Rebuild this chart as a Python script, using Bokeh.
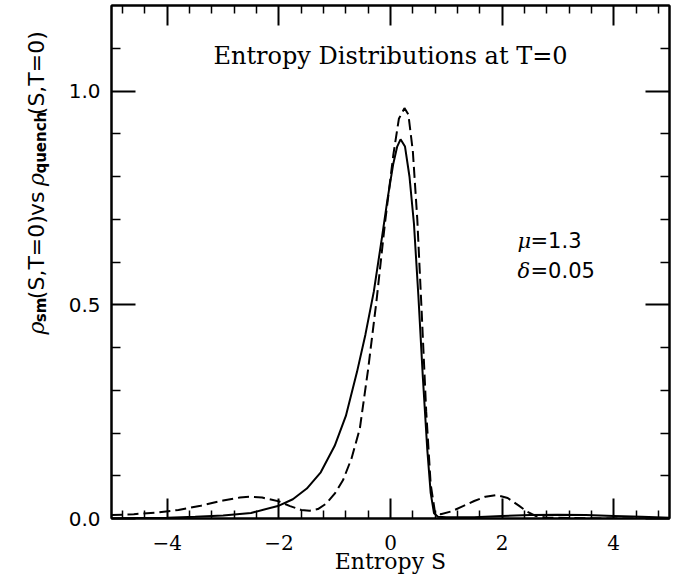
import math
from bokeh.plotting import figure
from bokeh.layouts import row
from bokeh.models import Range1d, LinearAxis, FixedTicker, Label
from bokeh.embed import file_html
from bokeh.resources import INLINE

# ---- data ----
s_sm = [-5.0, -4.5, -4.0, -3.5, -3.0, -2.5, -2.0, -1.75, -1.5, -1.25, -1.0, -0.8, -0.6,
        -0.45, -0.3, -0.15, -0.05, 0.05, 0.12, 0.18, 0.26, 0.34, 0.42, 0.5, 0.58, 0.66,
        0.72, 0.78, 0.85, 1.0, 1.5, 2.0, 2.5, 3.0, 3.5, 4.0, 4.5, 5.0]
rho_sm = [0.000, 0.001, 0.002, 0.004, 0.007, 0.013, 0.030, 0.045, 0.070, 0.108, 0.170,
          0.240, 0.343, 0.430, 0.530, 0.660, 0.750, 0.830, 0.870, 0.887, 0.870, 0.800,
          0.690, 0.520, 0.330, 0.160, 0.060, 0.012, 0.004, 0.003, 0.003, 0.006, 0.008,
          0.009, 0.008, 0.006, 0.004, 0.002]

s_q = [-5.0, -4.6, -4.2, -3.8, -3.4, -3.0, -2.7, -2.5, -2.3, -2.0, -1.8, -1.6, -1.45,
       -1.3, -1.15, -1.0, -0.85, -0.7, -0.55, -0.4, -0.25, -0.1, 0.05, 0.15, 0.25, 0.32,
       0.4, 0.48, 0.56, 0.64, 0.72, 0.8, 0.9, 1.1, 1.3, 1.5, 1.7, 1.9, 2.1, 2.3, 2.45,
       2.6, 2.8, 3.2, 4.0, 5.0]
rho_q = [0.008, 0.010, 0.014, 0.020, 0.030, 0.042, 0.049, 0.051, 0.049, 0.040, 0.029,
         0.020, 0.018, 0.022, 0.035, 0.058, 0.090, 0.140, 0.210, 0.350, 0.510, 0.690,
         0.850, 0.935, 0.960, 0.945, 0.860, 0.700, 0.480, 0.250, 0.080, 0.012, 0.010,
         0.017, 0.029, 0.041, 0.051, 0.055, 0.048, 0.030, 0.016, 0.006, 0.002, 0.001,
         0.000, 0.000]

x_major = [-4, -2, 0, 2, 4]
x_minor = [-4.8, -4.4, -3.6, -3.2, -2.8, -2.4, -1.6, -1.2, -0.8, -0.4,
           0.4, 0.8, 1.2, 1.6, 2.4, 2.8, 3.2, 3.6, 4.4, 4.8]
x_tick_labels = {-4: "\u22124", -2: "\u22122", 0: "0", 2: "2", 4: "4"}
y_major = [0.0, 0.5, 1.0]
y_minor = [0.1, 0.2, 0.3, 0.4, 0.6, 0.7, 0.8, 0.9, 1.1]
y_tick_labels = {0: "0.0", 0.5: "0.5", 1: "1.0"}

title_text = "Entropy Distributions at T=0"
xlabel_text = "Entropy S"

# ---- layout geometry (page pixels; page margin 8) ----
LW = 60                      # width of the strip that holds the rotated y label
W, H = 613, 580
L, R, T, B = 51, 4, 5, 62
FX0 = 8 + LW + L             # frame left on the page
FY0 = 8 + T                  # frame top on the page
fw = W - L - R
fh = H - T - B
px_x = fw / 10.0
px_y = fh / 1.2

def px2x(px):
    return -5 + (px - FX0) / px_x

def py2y(py):
    return (FY0 + fh - py) / px_y

# ---- main figure ----
p = figure(width=W, height=H, x_range=Range1d(-5, 5), y_range=Range1d(0, 1.2),
           output_backend="svg", toolbar_location=None,
           min_border_left=L, min_border_right=R, min_border_top=T, min_border_bottom=B,
           background_fill_color="white", border_fill_color="white")
p.grid.visible = False
p.outline_line_color = "black"
p.outline_line_width = 2

def style(ax, major_in, minor_in):
    ax.axis_line_color = "black"
    ax.axis_line_width = 2
    ax.major_tick_in = major_in
    ax.major_tick_out = 0
    ax.minor_tick_in = minor_in
    ax.minor_tick_out = 0
    ax.major_tick_line_width = 2
    ax.minor_tick_line_width = 1.5
    ax.major_tick_line_color = "black"
    ax.minor_tick_line_color = "black"

xb = p.xaxis[0]
xb.ticker = FixedTicker(ticks=x_major, minor_ticks=x_minor)
xb.major_label_overrides = x_tick_labels
xb.major_label_text_font = "DejaVu Serif"
xb.major_label_text_font_size = "20px"
xb.major_label_text_color = "black"
xb.major_label_standoff = 16
xb.axis_label = xlabel_text
xb.axis_label_text_font = "DejaVu Serif"
xb.axis_label_text_font_style = "normal"
xb.axis_label_text_font_size = "22px"
xb.axis_label_text_color = "black"
xb.axis_label_standoff = -4
style(xb, 20, 8)

yl = p.yaxis[0]
yl.ticker = FixedTicker(ticks=y_major, minor_ticks=y_minor)
yl.major_label_overrides = y_tick_labels
yl.major_label_text_font = "DejaVu Sans"
yl.major_label_text_font_size = "20px"
yl.major_label_text_color = "black"
yl.major_label_standoff = 11
style(yl, 24, 9)

def mirror_axis(ticks, minor, major_in, minor_in):
    ax = LinearAxis(ticker=FixedTicker(ticks=ticks, minor_ticks=minor))
    ax.major_label_text_font_size = "1px"
    ax.major_label_text_color = None
    ax.major_label_standoff = 0
    style(ax, major_in, minor_in)
    return ax

p.add_layout(mirror_axis(x_major, x_minor, 20, 8), "above")
p.add_layout(mirror_axis(y_major, y_minor, 24, 9), "right")

# ---- curves ----
p.line(s_sm, rho_sm, line_color="black", line_width=2)
p.line(s_q, rho_q, line_color="black", line_width=2, line_dash="11 5")

# ---- texts inside the frame ----
p.add_layout(Label(x=0, y=py2y(63), text=title_text, text_align="center",
                   text_baseline="alphabetic", text_font="DejaVu Serif",
                   text_font_size="24px", text_color="black"))

for txt_g, txt_r, base in [("\u03bc", "=1.3", 248), ("\u03b4", "=0.05", 278)]:
    x0 = px2x(525)
    p.add_layout(Label(x=x0, y=py2y(base), text=txt_g, text_align="left",
                       text_baseline="alphabetic", text_font="DejaVu Serif",
                       text_font_style="italic", text_font_size="21px", text_color="black"))
    p.add_layout(Label(x=x0 + 13 / px_x, y=py2y(base), text=txt_r, text_align="left",
                       text_baseline="alphabetic", text_font="DejaVu Sans",
                       text_font_size="21px", text_color="black"))

# ---- strip with the rotated y label (coordinates = page pixels minus margin) ----
ys = figure(width=LW, height=H, x_range=Range1d(0, LW), y_range=Range1d(H, 0),
            output_backend="svg", toolbar_location=None,
            min_border_left=0, min_border_right=0, min_border_top=0, min_border_bottom=0,
            x_axis_location=None, y_axis_location=None,
            background_fill_color="white", border_fill_color="white")
ys.outline_line_color = None
ys.grid.visible = False

main_fs, sub_fs = 22, 15
# text, font, style, size, offset below baseline, advance (px)
pieces = [
    ("\u03c1", "DejaVu Serif", "italic", main_fs, 0, 14),
    ("sm", "DejaVu Sans", "bold", sub_fs, 4, 26),
    ("(S,T=0)", "DejaVu Sans", "normal", main_fs, 0, 94),
    ("vs", "DejaVu Sans", "normal", main_fs, 0, 34),
    ("\u03c1", "DejaVu Serif", "italic", main_fs, 0, 14),
    ("quench", "DejaVu Sans", "bold", sub_fs, 4, 66),
    ("(S,T=0)", "DejaVu Sans", "normal", main_fs, 0, 86),
]
base_px = 44
cur = 380
for txt, font, style_, fs, off, w in pieces:
    ys.add_layout(Label(x=base_px + off - 8, y=cur - 8, text=txt, angle=math.pi / 2,
                        text_align="left", text_baseline="alphabetic", text_font=font,
                        text_font_style=style_, text_font_size=f"{fs}px",
                        text_color="black"))
    cur -= w

layout = row(ys, p, spacing=0)
open("out.html", "w").write(file_html(layout, INLINE))
